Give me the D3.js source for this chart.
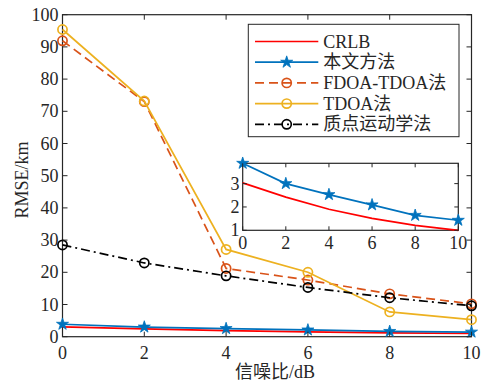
<!DOCTYPE html>
<html>
<head>
<meta charset="utf-8">
<script src="https://cdn.jsdelivr.net/npm/d3@7"></script>
<style>
  html, body { margin: 0; padding: 0; background: #fff; }
  svg { display: block; }
  text { font-family: "Liberation Serif", "Times New Roman", "Noto Sans CJK SC", serif; fill: #262626; }
</style>
</head>
<body>
<script>
// SNR (dB) on the x axis
const snr = [0, 2, 4, 6, 8, 10];

// RMSE (km) for each method
const crlb        = [3.03, 2.42, 1.90, 1.51, 1.21, 1.00];
const proposed    = [3.87, 3.00, 2.53, 2.09, 1.64, 1.43];
const fdoaTdoa    = [91.9, 73.0, 21.2, 17.6, 13.3, 10.2];
const tdoa        = [95.4, 73.2, 27.1, 20.0, 7.7, 5.3];
const kinematics  = [28.5, 22.9, 18.9, 15.3, 12.1, 9.6];

const seriesNames = ["CRLB", "本文方法", "FDOA-TDOA法", "TDOA法", "质点运动学法"];

const xTicks = [0, 2, 4, 6, 8, 10];
const yTicks = [0, 10, 20, 30, 40, 50, 60, 70, 80, 90, 100];
const insetYTicks = [1, 2, 3];

const W = 489, H = 383;
const axisColor = "#262626";

const series = [
  { name: seriesNames[0], values: crlb,       color: "#ff0000", dash: null,        marker: null },
  { name: seriesNames[1], values: proposed,   color: "#0072bd", dash: null,        marker: "star" },
  { name: seriesNames[2], values: fdoaTdoa,   color: "#d95319", dash: "9,5",       marker: "circle" },
  { name: seriesNames[3], values: tdoa,       color: "#edb120", dash: null,        marker: "circle" },
  { name: seriesNames[4], values: kinematics, color: "#000000", dash: "9,4,2,4",   marker: "circle" }
];

const svg = d3.select("body").append("svg").attr("width", W).attr("height", H);

// ---------- main axes ----------
const x = d3.scaleLinear().domain([0, 10]).range([62.5, 471.5]);
const y = d3.scaleLinear().domain([0, 100]).range([336.7, 14.7]);

function drawBox(g, xs, ys) {
  const [x0, x1] = xs.range();
  const [y0, y1] = ys.range();
  g.append("rect")
    .attr("x", x0).attr("y", y1)
    .attr("width", x1 - x0).attr("height", y0 - y1)
    .attr("fill", "#fff").attr("stroke", axisColor).attr("stroke-width", 1.2);
}

function drawTicks(g, xs, ys, xt, yt, len) {
  const [x0, x1] = xs.range();
  const [y0, y1] = ys.range();
  xt.forEach(v => {
    const px = xs(v);
    g.append("line").attr("x1", px).attr("x2", px).attr("y1", y0).attr("y2", y0 - len)
      .attr("stroke", axisColor).attr("stroke-width", 1);
    g.append("line").attr("x1", px).attr("x2", px).attr("y1", y1).attr("y2", y1 + len)
      .attr("stroke", axisColor).attr("stroke-width", 1);
  });
  yt.forEach(v => {
    const py = ys(v);
    g.append("line").attr("x1", x0).attr("x2", x0 + len).attr("y1", py).attr("y2", py)
      .attr("stroke", axisColor).attr("stroke-width", 1);
    g.append("line").attr("x1", x1).attr("x2", x1 - len).attr("y1", py).attr("y2", py)
      .attr("stroke", axisColor).attr("stroke-width", 1);
  });
}

function drawSeries(g, xs, ys, s) {
  const line = d3.line().x((d, i) => xs(snr[i])).y(d => ys(d));
  g.append("path")
    .datum(s.values)
    .attr("d", line)
    .attr("fill", "none")
    .attr("stroke", s.color)
    .attr("stroke-width", 1.7)
    .attr("stroke-dasharray", s.dash);
  drawMarkers(g, s, s.values.map((d, i) => [xs(snr[i]), ys(d)]));
}

function drawMarkers(g, s, pts) {
  if (s.marker === "star") {
    const sym = d3.symbol().type(d3.symbolStar).size(45);
    g.selectAll(null).data(pts).enter().append("path")
      .attr("d", sym)
      .attr("transform", p => `translate(${p[0]},${p[1]})`)
      .attr("fill", s.color).attr("stroke", s.color).attr("stroke-width", 0.8);
  } else if (s.marker === "circle") {
    g.selectAll(null).data(pts).enter().append("circle")
      .attr("cx", p => p[0]).attr("cy", p => p[1]).attr("r", 4.6)
      .attr("fill", "none").attr("stroke", s.color).attr("stroke-width", 1.7);
  }
}

const main = svg.append("g");
drawBox(main, x, y);
series.forEach(s => drawSeries(main, x, y, s));
drawTicks(main, x, y, xTicks, yTicks, 5);

// tick labels
main.selectAll(null).data(xTicks).enter().append("text")
  .attr("x", d => x(d)).attr("y", 359)
  .attr("text-anchor", "middle").attr("font-size", 18)
  .text(d => d);
main.selectAll(null).data(yTicks).enter().append("text")
  .attr("x", 58.5).attr("y", d => y(d) + 6)
  .attr("text-anchor", "end").attr("font-size", 18)
  .text(d => d);

// axis titles
main.append("text")
  .attr("x", 275).attr("y", 378)
  .attr("text-anchor", "middle").attr("font-size", 18)
  .text("信噪比/dB");
main.append("text")
  .attr("transform", "translate(28,180) rotate(-90)")
  .attr("text-anchor", "middle").attr("font-size", 18)
  .text("RMSE/km");

// ---------- legend ----------
const leg = svg.append("g");
leg.append("rect")
  .attr("x", 248.3).attr("y", 24.3).attr("width", 210.7).attr("height", 112.4)
  .attr("fill", "#fff").attr("stroke", axisColor).attr("stroke-width", 1);
const legY0 = 41.5, legDy = 20.7;
series.forEach((s, i) => {
  const ly = legY0 + i * legDy;
  leg.append("line")
    .attr("x1", 255).attr("x2", 318.3).attr("y1", ly).attr("y2", ly)
    .attr("stroke", s.color).attr("stroke-width", 1.7)
    .attr("stroke-dasharray", s.dash);
  drawMarkers(leg, s, [[286.7, ly]]);
  leg.append("text")
    .attr("x", 323.3).attr("y", ly + 6)
    .attr("font-size", 18)
    .text(s.name);
});

// ---------- inset: zoom on the two lowest curves ----------
const ix = d3.scaleLinear().domain([0, 10]).range([242.7, 458.3]);
const iy = d3.scaleLinear().domain([1, 3.87]).range([230.3, 163.3]);
const inset = svg.append("g");
drawBox(inset, ix, iy);
series.slice(0, 2).forEach(s => drawSeries(inset, ix, iy, s));
drawTicks(inset, ix, iy, xTicks, insetYTicks, 4);
inset.selectAll(null).data(xTicks).enter().append("text")
  .attr("x", d => ix(d)).attr("y", 249)
  .attr("text-anchor", "middle").attr("font-size", 18)
  .text(d => d);
inset.selectAll(null).data(insetYTicks).enter().append("text")
  .attr("x", 239.5).attr("y", d => iy(d) + 6)
  .attr("text-anchor", "end").attr("font-size", 18)
  .text(d => d);
</script>
</body>
</html>
